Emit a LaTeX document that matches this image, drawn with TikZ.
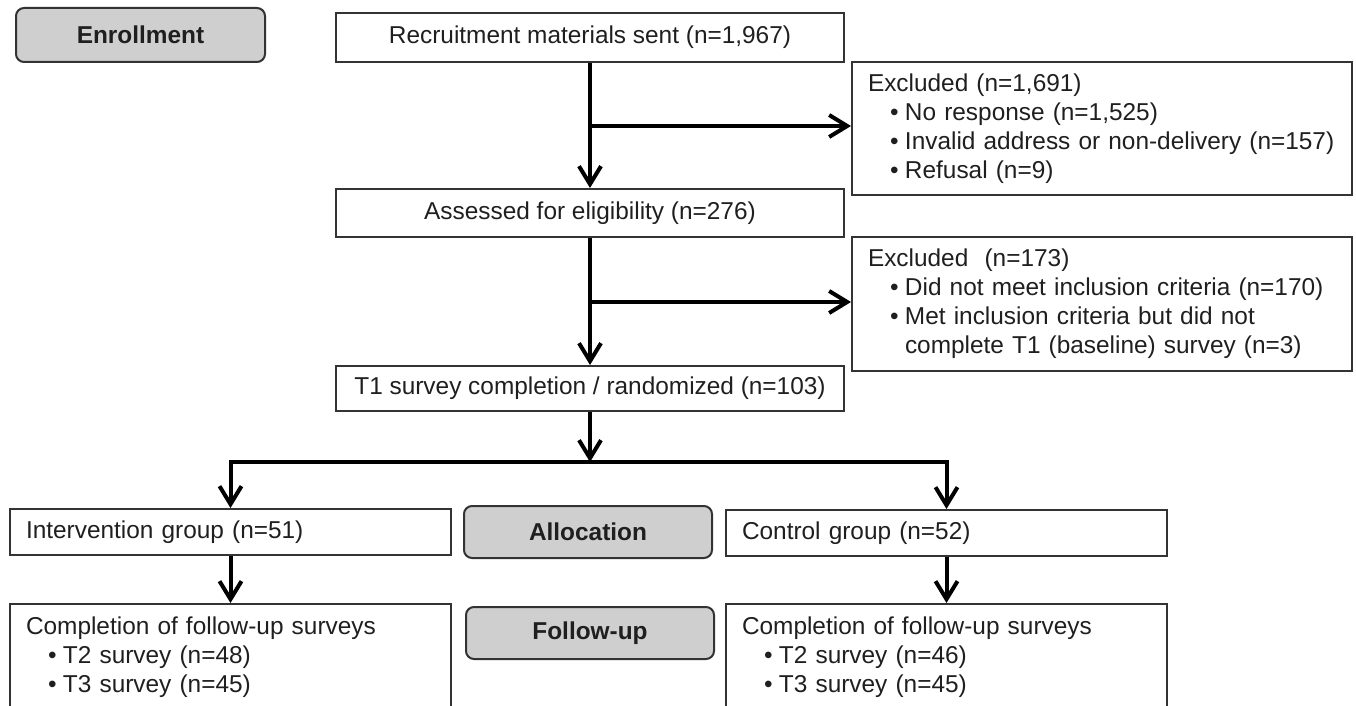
\documentclass[tikz,border=0pt]{standalone}
\usepackage{fontspec}
\setmainfont{Liberation Sans}
\usetikzlibrary{arrows.meta}
\newcommand\myb[1]{\hspace*{11pt}\makebox[7.5pt][l]{•}#1}
\newcommand\mycont[1]{\hspace*{18.5pt}#1}
\begin{document}
\begin{tikzpicture}[x=0.5pt,y=-0.5pt,
  every node/.style={font=\fontsize{12.2}{14.5}\selectfont, text=black!88},
  box/.style={draw=black!80, line width=1pt, rectangle, inner sep=0pt},
  lbox/.style={box, align=left, inner xsep=8pt},
  phase/.style={draw=black!80, line width=1pt, fill=black!19, rounded corners=4pt, inner sep=0pt,
    font=\fontsize{12.2}{14.5}\selectfont\bfseries},
  arr/.style={line width=2pt, -{Straight Barb[length=9pt,width=11pt]}}]
\path[use as bounding box, clip] (0,0) rectangle (1356,706);

% phase labels
\node[phase, minimum width=124.5pt, minimum height=27pt] (enr) at (140.5,35) {Enrollment};
\node[phase, minimum width=124pt, minimum height=26pt] (alloc) at (588,532) {Allocation};
\node[phase, minimum width=124pt, minimum height=26pt] (fu) at (590,633) {Follow-up};

% main boxes
\node[box, minimum width=254pt, minimum height=24.5pt] (rec) at (590,37.5) {Recruitment materials sent (n=1,967)};
\node[box, minimum width=254pt, minimum height=24pt] (ass) at (590,213) {Assessed for eligibility (n=276)};
\node[box, minimum width=254pt, minimum height=22.5pt] (t1) at (590,388.5) {T1 survey completion / randomized (n=103)};

\node[lbox, text width=234pt, minimum height=66.5pt] (ex1) at (1102,128.5)
  {Excluded (n=1,691)\\ \myb{No response (n=1,525)}\\ \myb{Invalid address or non-delivery (n=157)}\\ \myb{Refusal (n=9)}};
\node[lbox, text width=234pt, minimum height=67pt] (ex2) at (1102,304)
  {Excluded\ \ (n=173)\\ \myb{Did not meet inclusion criteria (n=170)}\\ \myb{Met inclusion criteria but did not}\\ \mycont{complete T1\ (baseline) survey\ (n=3)}};

\node[lbox, text width=204.5pt, minimum height=23pt] (int) at (230.5,532) {Intervention group (n=51)};
\node[lbox, text width=204.5pt, minimum height=23pt] (ctl) at (946.5,533) {Control group (n=52)};

\node[lbox, text width=204.5pt, minimum height=53pt] (cl) at (230.5,657)
  {Completion of follow-up surveys\\ \myb{T2 survey (n=48)}\\ \myb{T3 survey (n=45)}};
\node[lbox, text width=204.5pt, minimum height=53pt] (cr) at (946.5,657)
  {Completion of follow-up surveys\\ \myb{T2 survey (n=46)}\\ \myb{T3 survey (n=45)}};

% connectors
\coordinate (b1) at (590,126);
\coordinate (b2) at (590,302);
\coordinate (b3) at (590,462);
\draw[arr] (rec) -- (ass);
\draw[arr] (b1) -- (ex1.west |- b1);
\draw[arr] (ass) -- (t1);
\draw[arr] (b2) -- (ex2.west |- b2);
\draw[arr] (t1) -- (b3);
\draw[arr] (b3) -| (int);
\draw[arr] (b3) -| (ctl);
\draw[arr] (int) -- (cl);
\draw[arr] (ctl) -- (cr);
\end{tikzpicture}
\end{document}
